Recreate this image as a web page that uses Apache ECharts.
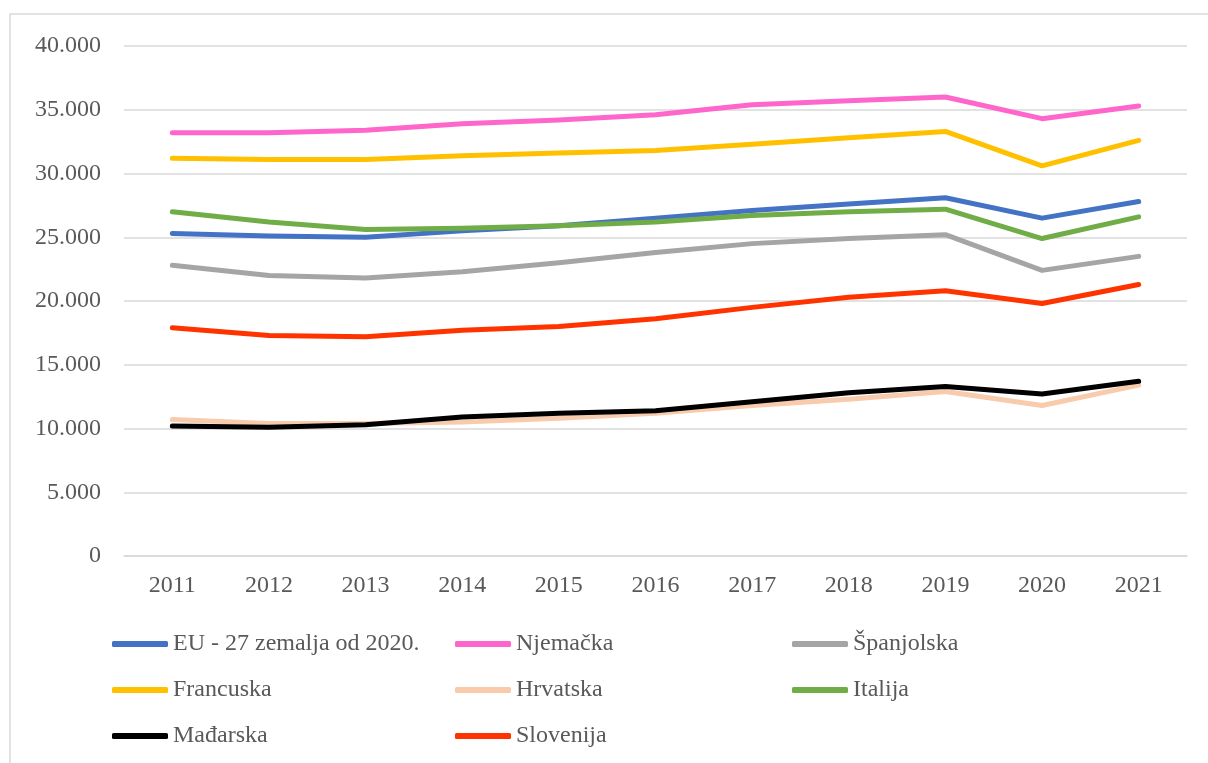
<!DOCTYPE html>
<html>
<head>
<meta charset="utf-8">
<title>Chart</title>
<script src="https://cdn.jsdelivr.net/npm/echarts@6/dist/echarts.min.js"></script>
<style>
  html, body { margin: 0; padding: 0; background: #fff; }
  #main { width: 1208px; height: 763px; }
</style>
</head>
<body>
<div id="main"></div>
<script>
  var years = ['2011', '2012', '2013', '2014', '2015', '2016', '2017', '2018', '2019', '2020', '2021']

  var eu27 = [25300, 25100, 25000, 25500, 25900, 26500, 27100, 27600, 28100, 26500, 27800]
  var njemacka = [33200, 33200, 33400, 33900, 34200, 34600, 35400, 35700, 36000, 34300, 35300]
  var spanjolska = [22800, 22000, 21800, 22300, 23000, 23800, 24500, 24900, 25200, 22400, 23500]
  var francuska = [31200, 31100, 31100, 31400, 31600, 31800, 32300, 32800, 33300, 30600, 32600]
  var hrvatska = [10700, 10400, 10400, 10500, 10800, 11200, 11800, 12300, 12900, 11800, 13400]
  var italija = [27000, 26200, 25600, 25700, 25900, 26200, 26700, 27000, 27200, 24900, 26600]
  var madarska = [10200, 10100, 10300, 10900, 11200, 11400, 12100, 12800, 13300, 12700, 13700]
  var slovenija = [17900, 17300, 17200, 17700, 18000, 18600, 19500, 20300, 20800, 19800, 21300]

  var names = ['EU - 27 zemalja od 2020.', 'Njemačka', 'Španjolska', 'Francuska', 'Hrvatska', 'Italija', 'Mađarska', 'Slovenija']
  var values = [eu27, njemacka, spanjolska, francuska, hrvatska, italija, madarska, slovenija]
  var colors = ['#4472C4', '#FF66CC', '#A5A5A5', '#FFC000', '#F8CBAD', '#70AD47', '#000000', '#FF3300']

  var myChart = echarts.init(document.getElementById('main'))

  var font = '"Liberation Serif", "Times New Roman", serif'
  var textColor = '#595959'

  var series = names.map(function (n, i) {
    return {
      name: n,
      type: 'line',
      symbol: 'none',
      data: values[i],
      lineStyle: { width: 5, color: colors[i], cap: 'round', join: 'round' },
      itemStyle: { color: colors[i] },
      z: 2 + i
    }
  })

  // one vertical legend per column, like the Excel layout
  function legendCol(left, data) {
    return {
      orient: 'vertical',
      left: left,
      top: 632,
      padding: 0,
      icon: 'roundRect',
      itemWidth: 56,
      itemHeight: 6,
      itemGap: 22,
      selectedMode: false,
      data: data,
      textStyle: { fontFamily: font, fontSize: 24, color: textColor, padding: [0, 0, 0, 0] }
    }
  }

  var option = {
    animation: false,
    color: colors,
    grid: { left: 124, right: 21, top: 46, bottom: 207, containLabel: false },
    graphic: [
      {
        type: 'rect',
        shape: { x: 10, y: 14, width: 1220, height: 780 },
        style: { fill: 'none', stroke: '#d9d9d9', lineWidth: 1.5 },
        silent: true
      }
    ],
    legend: [
      legendCol(112, [names[0], names[3], names[6]]),
      legendCol(455, [names[1], names[4], names[7]]),
      legendCol(792, [names[2], names[5]])
    ],
    xAxis: {
      type: 'category',
      data: years,
      boundaryGap: true,
      axisLine: { lineStyle: { color: '#d9d9d9', width: 1.5 } },
      axisTick: { show: false },
      axisLabel: { fontFamily: font, fontSize: 24, color: textColor, margin: 18 }
    },
    yAxis: {
      type: 'value',
      min: 0,
      max: 40000,
      interval: 5000,
      axisLine: { show: false },
      axisTick: { show: false },
      splitLine: { lineStyle: { color: '#d9d9d9', width: 1.5 } },
      axisLabel: {
        fontFamily: font,
        fontSize: 24,
        color: textColor,
        margin: 23,
        formatter: function (v) {
          return v === 0 ? '0' : String(v).replace(/\B(?=(\d{3})+(?!\d))/g, '.')
        }
      }
    },
    series: series
  }

  myChart.setOption(option)
  window.addEventListener('resize', function () {
    myChart.resize()
  })
</script>
</body>
</html>
